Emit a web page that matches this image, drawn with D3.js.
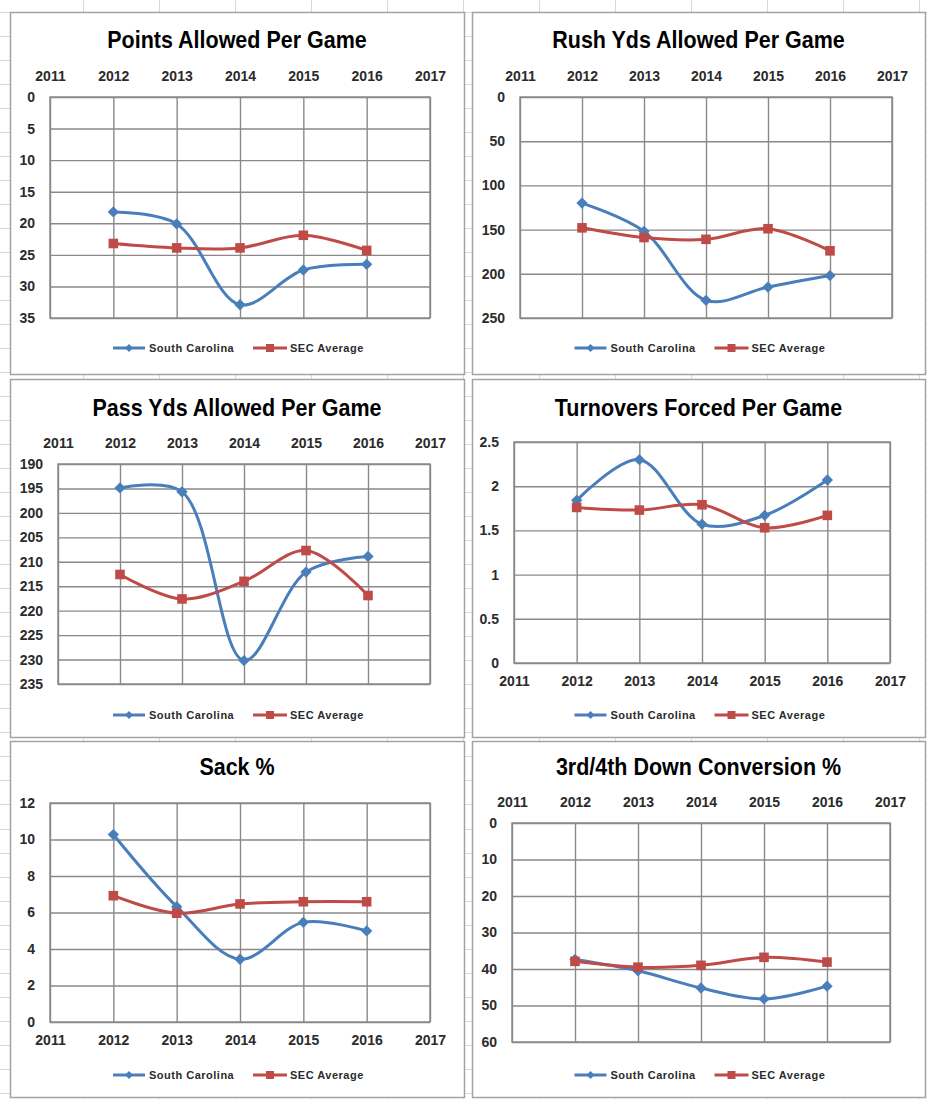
<!DOCTYPE html>
<html>
<head>
<meta charset="utf-8">
<style>
  body { margin: 0; background: #fff; }
  svg { display: block; }
  .title {
    font-family: "Liberation Sans Narrow", "Liberation Sans", sans-serif;
    font-weight: bold;
    font-size: 24px;
    fill: #000;
  }
  .lbl text {
    font-family: "Liberation Sans", sans-serif;
    font-weight: bold;
    font-size: 14px;
    fill: #2b2b2b;
  }
  .legend text {
    font-family: "Liberation Sans", sans-serif;
    font-weight: bold;
    font-size: 11px;
    letter-spacing: 0.5px;
    fill: #2b2b2b;
  }
</style>
</head>
<body>
<script src="https://d3js.org/d3.v7.min.js"></script>
<script>

var width = 927,
    height = 1099;

// data
var years = [2012, 2013, 2014, 2015, 2016];
var yearTicks = [2011, 2012, 2013, 2014, 2015, 2016, 2017];
var seriesNames = ["South Carolina", "SEC Average"];
var titles = ["Points Allowed Per Game", "Rush Yds Allowed Per Game", "Pass Yds Allowed Per Game",
              "Turnovers Forced Per Game", "Sack %", "3rd/4th Down Conversion %"];

var pointsSC  = [18.2, 20.1, 32.9, 27.4, 26.5];
var pointsSEC = [23.2, 23.9, 23.9, 21.9, 24.3];
var pointsTicks = [0, 5, 10, 15, 20, 25, 30, 35];

var rushSC  = [120, 152, 230, 215, 202];
var rushSEC = [148, 159, 161, 149, 174];
var rushTicks = [0, 50, 100, 150, 200, 250];

var passSC  = [194.9, 195.7, 230.2, 212.1, 208.9];
var passSEC = [212.6, 217.6, 214.0, 207.7, 216.9];
var passTicks = [190, 195, 200, 205, 210, 215, 220, 225, 230, 235];

var turnSC  = [1.84, 2.30, 1.57, 1.67, 2.07];
var turnSEC = [1.76, 1.73, 1.79, 1.53, 1.67];
var turnTicks = [0, 0.5, 1, 1.5, 2, 2.5];

var sackSC  = [10.27, 6.32, 3.44, 5.46, 4.99];
var sackSEC = [6.92, 5.96, 6.47, 6.59, 6.59];
var sackTicks = [0, 2, 4, 6, 8, 10, 12];

var downSC  = [37.4, 40.5, 45.2, 48.2, 44.7];
var downSEC = [37.9, 39.5, 39.0, 36.8, 38.1];
var downTicks = [0, 10, 20, 30, 40, 50, 60];

var colors = ["#4a7ebb", "#be4b48"];

// layout of the six chart objects (box = outer frame, plot = inner area)
var panels = [
  { title: titles[0], sc: pointsSC, sec: pointsSEC, ticks: pointsTicks, flip: true,  xPos: "top",
    box: [10, 12, 454, 362],  plot: [50, 97, 430, 318],   titleY: 40,  legendY: 348 },
  { title: titles[1], sc: rushSC,   sec: rushSEC,   ticks: rushTicks,   flip: true,  xPos: "top",
    box: [472, 12, 453, 362], plot: [520, 97, 892, 318],  titleY: 40,  legendY: 348 },
  { title: titles[2], sc: passSC,   sec: passSEC,   ticks: passTicks,   flip: true,  xPos: "top",
    box: [10, 379, 454, 358], plot: [58, 464, 430, 684],  titleY: 408, legendY: 715 },
  { title: titles[3], sc: turnSC,   sec: turnSEC,   ticks: turnTicks,   flip: false, xPos: "bottom",
    box: [472, 379, 453, 358], plot: [514, 442, 890, 663], titleY: 408, legendY: 715 },
  { title: titles[4], sc: sackSC,   sec: sackSEC,   ticks: sackTicks,   flip: false, xPos: "bottom",
    box: [10, 741, 454, 356], plot: [50, 803, 430, 1022], titleY: 767, legendY: 1075 },
  { title: titles[5], sc: downSC,   sec: downSEC,   ticks: downTicks,   flip: true,  xPos: "top",
    box: [472, 741, 453, 356], plot: [512, 823, 890, 1042], titleY: 767, legendY: 1075 }
];

var svg = d3.select("body").append("svg")
    .attr("width", width)
    .attr("height", height);

// spreadsheet cells behind the charts
var sheet = svg.append("g").attr("stroke", "#d9d9d9").attr("stroke-width", 1);
d3.range(83.5, width, 76).forEach(function(x) {
  sheet.append("line").attr("x1", x).attr("x2", x).attr("y1", 0).attr("y2", height);
});
d3.range(11.5, height, 24.03).forEach(function(y) {
  sheet.append("line").attr("x1", 0).attr("x2", width).attr("y1", Math.round(y) + 0.5).attr("y2", Math.round(y) + 0.5);
});

var line = d3.line().curve(d3.curveCatmullRom.alpha(0.5));
var diamond = d3.symbol().type(d3.symbolSquare).size(64);
var square = d3.symbol().type(d3.symbolSquare).size(92);

panels.forEach(function(p) {
  var g = svg.append("g");
  var b = p.box, a = p.plot;
  var w = a[2] - a[0], h = a[3] - a[1];

  g.append("rect")
    .attr("x", b[0] + 0.5).attr("y", b[1] + 0.5)
    .attr("width", b[2]).attr("height", b[3])
    .attr("fill", "#fff")
    .attr("stroke", "#a3a3a3")
    .attr("stroke-width", 1.5);

  // title: squeeze to the narrow look of the original font
  var t = g.append("text")
    .attr("class", "title")
    .attr("x", b[0] + b[2] / 2)
    .attr("y", p.titleY)
    .attr("dy", "0.35em")
    .attr("text-anchor", "middle")
    .text(p.title);
  var tw = t.node().getComputedTextLength();
  t.attr("textLength", tw * 0.895).attr("lengthAdjust", "spacingAndGlyphs");

  var x = d3.scaleLinear().domain([2011, 2017]).range([0, w]);
  var yDom = d3.extent(p.ticks);
  var y = d3.scaleLinear().domain(yDom).range(p.flip ? [0, h] : [h, 0]);

  var plot = g.append("g").attr("transform", "translate(" + a[0] + "," + a[1] + ")");

  // gridlines
  var gx = plot.append("g")
    .attr("transform", "translate(0," + h + ")")
    .call(d3.axisBottom(x).tickValues(yearTicks).tickSize(-h).tickFormat(""));
  var gy = plot.append("g")
    .call(d3.axisLeft(y).tickValues(p.ticks).tickSize(-w).tickFormat(""));
  [gx, gy].forEach(function(s) {
    s.select(".domain").remove();
    s.selectAll("line").attr("stroke", "#898989").attr("stroke-width", 1.4);
  });
  plot.append("rect")
    .attr("width", w).attr("height", h)
    .attr("fill", "none")
    .attr("stroke", "#898989")
    .attr("stroke-width", 1.4);

  // tick labels
  var yl = plot.append("g").attr("class", "lbl")
    .call(d3.axisLeft(y).tickValues(p.ticks).tickSize(0).tickPadding(15)
      .tickFormat(function(d) { return String(d); }));
  var xl;
  if (p.xPos === "top") {
    xl = plot.append("g").attr("class", "lbl")
      .call(d3.axisTop(x).tickValues(yearTicks).tickSize(0).tickPadding(16).tickFormat(d3.format("d")));
  } else {
    xl = plot.append("g").attr("class", "lbl")
      .attr("transform", "translate(0," + h + ")")
      .call(d3.axisBottom(x).tickValues(yearTicks).tickSize(0).tickPadding(13).tickFormat(d3.format("d")));
  }
  [xl, yl].forEach(function(s) {
    s.select(".domain").remove();
    s.attr("font-family", null).attr("font-size", null);
  });

  // series
  [p.sc, p.sec].forEach(function(vals, i) {
    var pts = years.map(function(yr, j) { return [x(yr), y(vals[j])]; });
    plot.append("path")
      .attr("d", line(pts))
      .attr("fill", "none")
      .attr("stroke", colors[i])
      .attr("stroke-width", 3)
      .attr("stroke-linecap", "round");
    plot.selectAll(".m" + i)
      .data(pts)
      .enter().append("path")
      .attr("class", "m" + i)
      .attr("transform", function(d) {
        return "translate(" + d[0] + "," + d[1] + ")" + (i === 0 ? " rotate(45)" : "");
      })
      .attr("d", i === 0 ? diamond : square)
      .attr("fill", colors[i]);
  });

  // legend
  var cx = b[0] + b[2] / 2;
  var lg = g.append("g").attr("class", "legend")
    .attr("transform", "translate(" + cx + "," + p.legendY + ")");
  var items = [{ x0: -124, x1: -92, tx: -88 }, { x0: 16, x1: 50, tx: 53 }];
  items.forEach(function(it, i) {
    lg.append("line")
      .attr("x1", it.x0).attr("x2", it.x1)
      .attr("stroke", colors[i]).attr("stroke-width", 3);
    lg.append("path")
      .attr("transform", "translate(" + (it.x0 + it.x1) / 2 + ",0)" + (i === 0 ? " rotate(45)" : ""))
      .attr("d", i === 0 ? d3.symbol().type(d3.symbolSquare).size(32)() : d3.symbol().type(d3.symbolSquare).size(64)())
      .attr("fill", colors[i]);
    lg.append("text")
      .attr("x", it.tx)
      .attr("dy", "0.35em")
      .text(seriesNames[i]);
  });
});

</script>
</body>
</html>
